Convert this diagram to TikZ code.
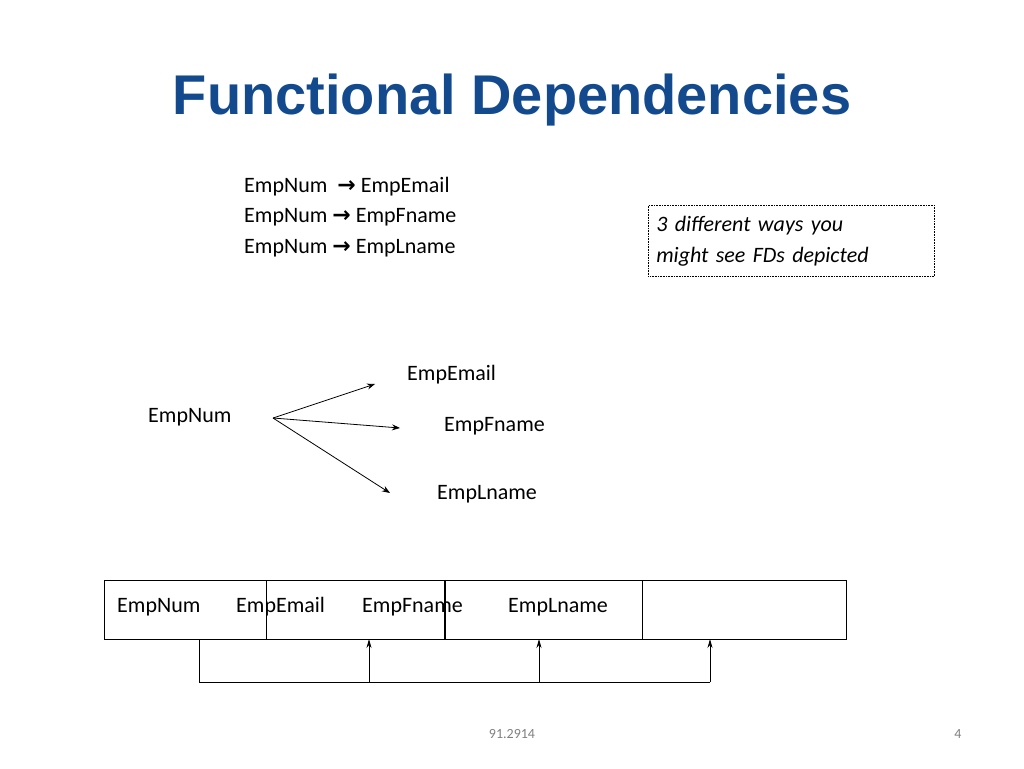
\documentclass[tikz,border=0pt]{standalone}
\usepackage{fontspec}
\setmainfont{Carlito}
\newfontfamily\titlefont{Liberation Sans}
\newfontfamily\symfont{DejaVu Sans}
\usetikzlibrary{arrows.meta}
\definecolor{titleblue}{HTML}{134A8E}
\tikzset{
  txt/.style={anchor=base west,inner sep=0pt,font=\fontsize{22}{26}\selectfont},
  fd/.style={-{Stealth[length=8pt,width=6pt]},line width=0.8pt},
  up/.style={-{Stealth[length=9pt,width=5pt]},line width=0.8pt}
}
\newcommand{\rarr}{{\symfont\bfseries →}}
\begin{document}
\begin{tikzpicture}[x=1pt,y=-1pt]
\useasboundingbox (0,0) rectangle (1024,768);
\node[font=\titlefont\bfseries\fontsize{56}{60}\selectfont,text=titleblue] (title) at (512,100) {Functional Dependencies};
\node[txt] (l1) at (244,192) {EmpNum \ \rarr\ EmpEmail};
\node[txt] (l2) at (244,222) {EmpNum \rarr\ EmpFname};
\node[txt] (l3) at (244,253) {EmpNum \rarr\ EmpLname};
\node[draw,densely dotted,line width=0.6pt,anchor=north west,minimum width=282pt,minimum height=71pt,align=left,text width=270pt,font=\itshape\fontsize{22}{31}\selectfont,inner xsep=8pt] (note) at (648,205) {3 different ways you\\might see FDs depicted};
\node[txt] (en) at (148,422) {EmpNum};
\coordinate (src) at (273,418);
\node[txt] (ee) at (407,380) {EmpEmail};
\node[txt] (ef) at (444,431) {EmpFname};
\node[txt] (el) at (437,499) {EmpLname};
\coordinate (t1) at (375,384);
\coordinate (t2) at (400,428);
\coordinate (t3) at (390,493);
\draw[fd] (src) -- (t1);
\draw[fd] (src) -- (t2);
\draw[fd] (src) -- (t3);
\draw[line width=0.8pt] (104,580) rectangle (846,639);
\draw[line width=0.8pt] (266,580) -- (266,639);
\draw[line width=1.4pt] (445,580) -- (445,639);
\draw[line width=0.8pt] (642,580) -- (642,639);
\node[txt] (c1) at (117,612) {EmpNum};
\node[txt] (c2) at (236,612) {EmpEmail};
\node[txt] (c3) at (362,612) {EmpFname};
\node[txt] (c4) at (508,612) {EmpLname};
\draw[line width=0.8pt] (199,639) -- (199,682) -- (710,682);
\draw[up] (369,682) -- (369,639);
\draw[up] (539,682) -- (539,639);
\draw[up] (710,682) -- (710,639);
\node[font=\fontsize{14}{16}\selectfont,text=gray] (foot) at (512,734) {91.2914};
\node[font=\fontsize{14}{16}\selectfont,text=gray] (pg) at (958,734) {4};
\end{tikzpicture}
\end{document}
